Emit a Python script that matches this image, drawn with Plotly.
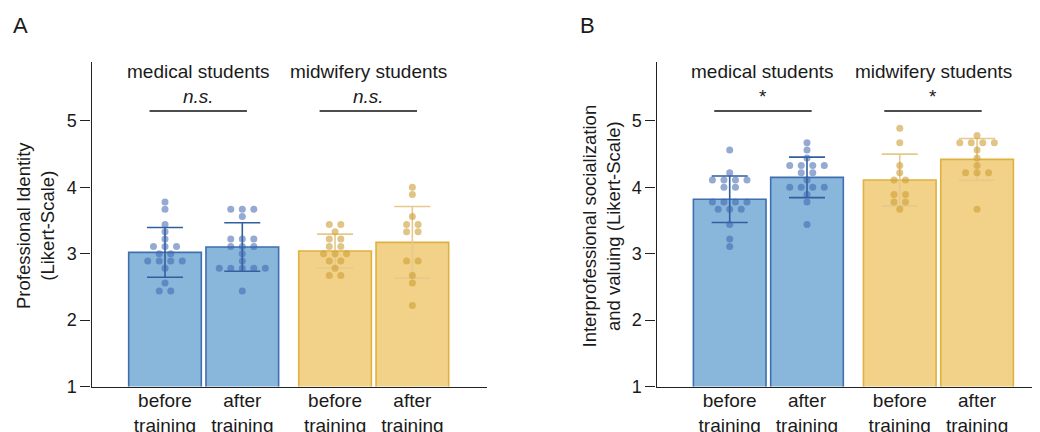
import plotly.graph_objects as go
from collections import Counter

# ---------------- data ----------------
categories = ["before<br>training", "after<br>training", "before<br>training", "after<br>training"]
groups = ["medical students", "midwifery students"]
positions = [0, 1, 2.2, 3.2]

# Panel A: Professional Identity
A_means = [3.02, 3.10, 3.04, 3.17]
A_sd = [0.375, 0.365, 0.255, 0.54]
A_sig = ["n.s.", "n.s."]
A_med_before = [3.78, 3.67, 3.44, 3.33, 3.22, 3.11, 3.11, 3.11, 3.00, 3.00,
                2.89, 2.89, 2.89, 2.89, 2.78, 2.56, 2.44, 2.44]
A_med_after = [3.67, 3.67, 3.67, 3.56, 3.22, 3.22, 3.22, 3.11, 3.11, 3.11,
               3.00, 2.89, 2.78, 2.78, 2.78, 2.78, 2.78, 2.44]
A_mid_before = [3.44, 3.44, 3.33, 3.22, 3.22, 3.11, 3.11, 3.00, 3.00, 3.00,
                2.89, 2.89, 2.78, 2.67, 2.67]
A_mid_after = [4.00, 3.89, 3.56, 3.44, 3.44, 3.33, 3.33, 2.89, 2.89, 2.67, 2.56, 2.22]

# Panel B: Interprofessional socialization and valuing
B_means = [3.82, 4.15, 4.11, 4.42]
B_sd = [0.35, 0.305, 0.39, 0.315]
B_sig = ["*", "*"]
B_med_before = [4.56, 4.22, 4.11, 4.11, 4.11, 4.11, 4.00, 4.00, 3.78, 3.78,
                3.78, 3.78, 3.67, 3.67, 3.67, 3.44, 3.22, 3.11]
B_med_after = [4.67, 4.56, 4.44, 4.33, 4.33, 4.33, 4.33, 4.22, 4.22, 4.11,
               4.00, 4.00, 4.00, 4.00, 3.89, 3.78, 3.44]
B_mid_before = [4.89, 4.67, 4.33, 4.22, 4.11, 4.11, 3.89, 3.89, 3.78, 3.78, 3.67]
B_mid_after = [4.78, 4.67, 4.67, 4.67, 4.67, 4.56, 4.44, 4.33, 4.22, 4.22, 4.22, 3.67]

y_ticks = [1, 2, 3, 4, 5]

# ---------------- style ----------------
FONT = "Liberation Sans, Arial, Helvetica, sans-serif"
TXT = "#1a1a1a"
BLUE_FILL = "#88b7db"
BLUE_LINE = "#3f6fae"
BLUE_ERR = "#2f5f9f"
BLUE_DOT = "rgba(60,100,175,0.55)"
GOLD_FILL = "#f2d188"
GOLD_LINE = "#e0b13f"
GOLD_ERR = "#e6c98c"
GOLD_DOT = "rgba(205,158,55,0.6)"
SWARM_STEP = 0.149

W, H = 1040, 432
OFF = 8  # page body margin offset
Y_TOP_PX, Y_BOT_PX = 62 - OFF, 386.5 - OFF
PX_PER_UNIT = 66.4
Y_MAX = 1 + (Y_BOT_PX - Y_TOP_PX) / PX_PER_UNIT

fig = go.Figure()


def swarm(values, center):
    counts = Counter(values)
    seen = Counter()
    xs = []
    for v in values:
        n = counts[v]
        i = seen[v]
        seen[v] += 1
        xs.append(center + (i - (n - 1) / 2) * SWARM_STEP)
    return xs


def add_panel(xa, ya, means, sd, dots):
    specs = [(0, BLUE_FILL, BLUE_LINE, BLUE_ERR, BLUE_DOT),
             (2, GOLD_FILL, GOLD_LINE, GOLD_ERR, GOLD_DOT)]
    for start, fill, line, err, dot in specs:
        idx = [start, start + 1]
        fig.add_trace(go.Bar(
            x=[positions[i] for i in idx], y=[means[i] for i in idx],
            width=0.94, marker=dict(color=fill, line=dict(color=line, width=1.6)),
            error_y=dict(type="data", array=[sd[i] for i in idx], color=err,
                         thickness=1.6, width=18),
            xaxis=xa, yaxis=ya, showlegend=False))
        for i in idx:
            fig.add_trace(go.Scatter(
                x=swarm(dots[i], positions[i]), y=dots[i], mode="markers",
                marker=dict(size=7, color=dot, line=dict(width=0)),
                xaxis=xa, yaxis=ya, showlegend=False, cliponaxis=False))


add_panel("x", "y", A_means, A_sd, [A_med_before, A_med_after, A_mid_before, A_mid_after])
add_panel("x2", "y2", B_means, B_sd, [B_med_before, B_med_after, B_mid_before, B_mid_after])

# group labels, significance and brackets
annotations = []
shapes = []
for xr, yr, sig in (("x", "y", A_sig), ("x2", "y2", B_sig)):
    for g, start in enumerate([0, 2]):
        left, right = positions[start], positions[start + 1]
        cx = (left + right) / 2 - 0.07
        annotations.append(dict(x=cx, y=5.74, xref=xr, yref=yr, text=groups[g],
                                xanchor="center", yanchor="middle",
                                showarrow=False, font=dict(size=19, color=TXT, family=FONT)))
        label = "<i>%s</i>" % sig[g] if sig[g] != "*" else sig[g]
        annotations.append(dict(x=cx, y=5.37, xref=xr, yref=yr, text=label,
                                xanchor="center", yanchor="middle",
                                showarrow=False, font=dict(size=19, color=TXT, family=FONT)))
        shapes.append(dict(type="line", xref=xr, yref=yr, x0=left - 0.2, x1=right + 0.06,
                           y0=5.15, y1=5.15, line=dict(color="#111", width=1.5)))


def paper(xpx, ypx):
    return (xpx - OFF) / W, 1 - (ypx - OFF) / H


for txt, (px, py), size, ang in (
        ("A", (20.5, 26), 22, 0),
        ("B", (587, 26), 22, 0),
        ("Professional Identity<br>(Likert-Scale)", (35, 226), 18.5, -90),
        ("Interprofessional socialization<br>and valuing (Likert-Scale)", (600.5, 226), 18.5, -90)):
    ax, ay = paper(px, py)
    annotations.append(dict(x=ax, y=ay, xref="paper", yref="paper", text=txt, textangle=ang,
                            xanchor="center", yanchor="middle", showarrow=False,
                            font=dict(size=size, color=TXT, family=FONT)))

y_domain = [1 - Y_BOT_PX / H, 1 - Y_TOP_PX / H]
bar_px = 77.3
xA0 = 165.0 - OFF
xB0 = 729.7 - OFF


def xaxis_cfg(dom_px, x0, anchor):
    d0, d1 = dom_px[0] - OFF, dom_px[1] - OFF
    return dict(domain=[d0 / W, d1 / W], anchor=anchor, automargin=False,
                range=[(d0 - x0) / bar_px, (d1 - x0) / bar_px],
                showline=True, linecolor="#222", linewidth=1.2, showgrid=False, zeroline=False,
                tickvals=positions, ticktext=categories, ticks="", ticklen=0, ticklabelstandoff=-3,
                tickfont=dict(size=19, color=TXT, family=FONT))


def yaxis_cfg(anchor):
    return dict(domain=y_domain, anchor=anchor, automargin=False, range=[1, Y_MAX],
                showline=True, linecolor="#222", linewidth=1.2,
                showgrid=False, zeroline=False, tickvals=y_ticks, ticks="outside", ticklen=10,
                tickcolor="#222", tickwidth=1.2, tickfont=dict(size=18, color=TXT, family=FONT))


fig.update_layout(
    width=W, height=H, margin=dict(l=0, r=0, t=0, b=0, pad=0), template="none",
    paper_bgcolor="white", plot_bgcolor="white", barmode="overlay",
    xaxis=xaxis_cfg((91.5, 486.5), xA0, "y"), yaxis=yaxis_cfg("x"),
    xaxis2=xaxis_cfg((656.5, 1040), xB0, "y2"), yaxis2=yaxis_cfg("x2"),
    annotations=annotations, shapes=shapes, font=dict(family=FONT, color=TXT),
)

fig.write_html("out.html")
